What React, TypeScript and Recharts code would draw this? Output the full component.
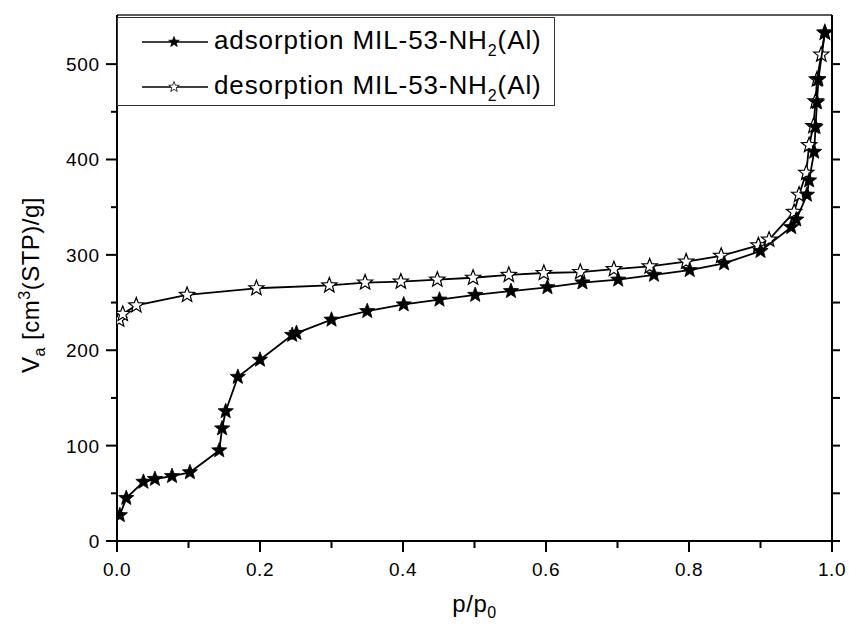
import React from 'react';
import { ComposedChart, Scatter, XAxis, YAxis, Legend, ReferenceLine } from 'recharts';

const FONT = '"Liberation Sans", Arial, sans-serif';

// Adsorption branch (p/p0, Va)
const adsP = [0.004, 0.013, 0.037, 0.053, 0.077, 0.102, 0.143, 0.147, 0.152, 0.169, 0.2, 0.245, 0.251, 0.3, 0.35, 0.401, 0.451, 0.501, 0.551, 0.602, 0.651, 0.701, 0.751, 0.801, 0.849, 0.9, 0.943, 0.95, 0.965, 0.968, 0.975, 0.977, 0.979, 0.981, 0.99];
const adsV = [27, 45, 62, 65, 68, 72, 95, 118, 136, 172, 190, 216, 218, 232, 241, 248, 253, 258, 262, 266, 271, 274, 279, 284, 291, 304, 329, 337, 363, 378, 408, 434, 460, 484, 533];

// Desorption branch (p/p0, Va)
const desP = [0.003, 0.008, 0.027, 0.098, 0.195, 0.297, 0.347, 0.397, 0.448, 0.498, 0.548, 0.597, 0.648, 0.695, 0.745, 0.796, 0.845, 0.897, 0.912, 0.947, 0.954, 0.964, 0.968, 0.974, 0.977, 0.979, 0.985, 0.99];
const desV = [232, 238, 247, 258, 265, 268, 271, 272, 274, 276, 279, 281, 282, 285, 288, 293, 299, 310, 316, 345, 363, 386, 415, 435, 461, 484, 510, 533];

const xTicks = [0, 0.1, 0.2, 0.3, 0.4, 0.5, 0.6, 0.7, 0.8, 0.9, 1.0];
const yTicks = [0, 50, 100, 150, 200, 250, 300, 350, 400, 450, 500];
const seriesLabels = ['adsorption MIL-53-NH', 'desorption MIL-53-NH'];
const seriesFills = ['#000', '#fff'];

const adsData = adsP.map((p, i) => ({ p, v: adsV[i] }));
const desData = desP.map((p, i) => ({ p, v: desV[i] }));

function starPath(cx: number, cy: number, R: number, r: number) {
  let d = '';
  for (let i = 0; i < 10; i++) {
    const ang = -Math.PI / 2 + (i * Math.PI) / 5;
    const rad = i % 2 === 0 ? R : r;
    d += (i === 0 ? 'M' : 'L') + (cx + rad * Math.cos(ang)).toFixed(2) + ',' + (cy + rad * Math.sin(ang)).toFixed(2);
  }
  return d + 'Z';
}

const FilledStar = (props: any) => {
  const { cx, cy } = props;
  if (cx == null || cy == null) return null;
  return <path d={starPath(cx, cy, 8, 3.4)} fill="#000" stroke="#000" strokeWidth={0.8} />;
};
const OpenStar = (props: any) => {
  const { cx, cy } = props;
  if (cx == null || cy == null) return null;
  return <path d={starPath(cx, cy, 8, 3.4)} fill="#fff" stroke="#000" strokeWidth={1.2} />;
};

const XTick = (props: any) => {
  const { x, y, payload } = props;
  const v = payload.value;
  const major = Math.round(v * 10) % 2 === 0;
  return (
    <g>
      <line x1={x} y1={y} x2={x} y2={y + (major ? 11 : 7)} stroke="#000" strokeWidth={2} />
      {major && (
        <text x={x} y={y + 35} textAnchor="middle" fontSize={19} letterSpacing={0.6} fontFamily={FONT} fill="#000">
          {v.toFixed(1)}
        </text>
      )}
    </g>
  );
};

const YTickLeft = (props: any) => {
  const { x, y, payload } = props;
  const v = payload.value;
  const major = v % 100 === 0;
  return (
    <g>
      <line x1={x} y1={y} x2={x - (major ? 11 : 6)} y2={y} stroke="#000" strokeWidth={2} />
      {major && (
        <text x={x - 17} y={y + 7} textAnchor="end" fontSize={19} letterSpacing={0.8} fontFamily={FONT} fill="#000">
          {v}
        </text>
      )}
    </g>
  );
};

const YTickRight = (props: any) => {
  const { x, y } = props;
  return <line x1={x} y1={y} x2={x + 8} y2={y} stroke="#000" strokeWidth={2} />;
};

const XTitle = (props: any) => {
  const vb = props.viewBox || { x: 117, y: 541, width: 715, height: 87 };
  const cx = vb.x + vb.width / 2;
  return (
    <text x={cx} y={vb.y + 71} textAnchor="middle" fontSize={24} letterSpacing={0.5} fontFamily={FONT} fill="#000">
      p/p<tspan dy={6} fontSize={16}>0</tspan>
    </text>
  );
};

const YTitle = (props: any) => {
  const vb = props.viewBox || { x: 0, y: 15, width: 117, height: 526 };
  const cx = 39;
  const cy = vb.y + vb.height / 2 + 7;
  return (
    <text
      x={cx}
      y={cy}
      transform={`rotate(-90, ${cx}, ${cy})`}
      textAnchor="middle"
      fontSize={24}
      letterSpacing={0.5}
      fontFamily={FONT}
      fill="#000"
    >
      V<tspan dy={6} fontSize={16}>a</tspan>
      <tspan dy={-6}> [cm</tspan>
      <tspan dy={-9} fontSize={16}>3</tspan>
      <tspan dy={9}>(STP)/g]</tspan>
    </text>
  );
};

const renderLegend = () => (
  <div
    style={{
      position: 'relative',
      width: 438,
      height: 89,
      border: '1px solid #333',
      boxSizing: 'border-box',
      background: '#fff',
      fontFamily: FONT,
      color: '#000',
    }}
  >
    {seriesLabels.map((label, i) => (
      <div
        key={i}
        style={{
          position: 'absolute',
          left: 24,
          top: 6 + i * 45,
          height: 36,
          display: 'flex',
          alignItems: 'center',
          whiteSpace: 'nowrap',
        }}
      >
        <svg width={66} height={20} style={{ display: 'block' }}>
          <line x1={0} y1={10} x2={66} y2={10} stroke="#000" strokeWidth={1.3} />
          <path d={starPath(32, 10, 5.5, 2.3)} fill={seriesFills[i]} stroke="#000" strokeWidth={0.8} />
        </svg>
        <span style={{ marginLeft: 6, fontSize: 26, letterSpacing: 0.9, lineHeight: '36px' }}>
          {label}
          <span style={{ fontSize: 16, position: 'relative', top: 7 }}>2</span>
          (Al)
        </span>
      </div>
    ))}
  </div>
);

export default function App() {
  return (
    <div style={{ position: 'absolute', left: 0, top: 0, width: 849, height: 628, background: '#fff' }}>
      <ComposedChart width={849} height={628} margin={{ top: 15, right: 0, bottom: 0, left: 0 }}>
        <XAxis
          type="number"
          dataKey="p"
          domain={[0, 1]}
          ticks={xTicks}
          interval={0}
          allowDataOverflow
          height={87}
          tickSize={0}
          tickMargin={0}
          tickLine={false}
          tick={<XTick />}
          axisLine={{ stroke: '#000', strokeWidth: 2 }}
          label={XTitle}
        />
        <YAxis
          yAxisId="left"
          type="number"
          dataKey="v"
          domain={[0, 551.5]}
          ticks={yTicks}
          interval={0}
          allowDataOverflow
          width={117}
          tickSize={0}
          tickMargin={0}
          tickLine={false}
          tick={<YTickLeft />}
          axisLine={{ stroke: '#000', strokeWidth: 2 }}
          label={YTitle}
        />
        <YAxis
          yAxisId="right"
          orientation="right"
          type="number"
          domain={[0, 551.5]}
          ticks={yTicks}
          interval={0}
          allowDataOverflow
          width={17}
          tickSize={0}
          tickMargin={0}
          tickLine={false}
          tick={<YTickRight />}
          axisLine={{ stroke: '#000', strokeWidth: 2 }}
        />
        <ReferenceLine yAxisId="left" y={551.5} stroke="#222" strokeWidth={1.5} />
        <Scatter
          yAxisId="left"
          name="desorption"
          data={desData}
          dataKey="v"
          line={{ stroke: '#000', strokeWidth: 1.8 }}
          lineType="joint"
          shape={OpenStar}
          isAnimationActive={false}
        />
        <Scatter
          yAxisId="left"
          name="adsorption"
          data={adsData}
          dataKey="v"
          line={{ stroke: '#000', strokeWidth: 1.8 }}
          lineType="joint"
          shape={FilledStar}
          isAnimationActive={false}
        />
        <Legend
          layout="horizontal"
          verticalAlign="middle"
          align="center"
          content={renderLegend}
          wrapperStyle={{ left: 117, top: 17, width: 438, height: 89 }}
        />
      </ComposedChart>
    </div>
  );
}
